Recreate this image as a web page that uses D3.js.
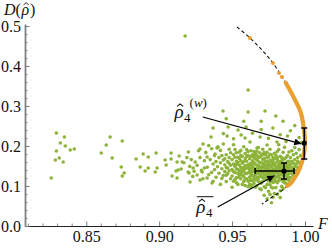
<!DOCTYPE html>
<html>
<head>
<meta charset="utf-8">
<script src="https://cdn.jsdelivr.net/npm/d3@7"></script>
<style>
body { margin: 0; background: #fff; }
svg { display: block; }
text { font-family: "Liberation Serif", "DejaVu Serif", serif; }
</style>
</head>
<body>
<div id="chart"></div>
<script>
// tick values
var xMajor = [0.85, 0.90, 0.95, 1.00];
var yMajor = [0.0, 0.1, 0.2, 0.3, 0.4, 0.5];

// green samples [F, D] : sparse tail on the left
var tailPts = [
    [0.8295,0.2325],[0.835,0.2225],[0.8322,0.2075],[0.8356,0.20],[0.8295,0.1875],[0.839,0.19],
    [0.8418,0.1925],[0.8288,0.165],[0.8315,0.17],[0.8342,0.16],[0.826,0.12],
    [0.8603,0.1825],[0.8637,0.2025],[0.8664,0.2225],[0.8678,0.17],[0.8747,0.2125],[0.874,0.1475],
    [0.876,0.1325],[0.8747,0.125],[0.8842,0.1675],[0.889,0.18],[0.8925,0.1725],[0.8979,0.1825],
    [0.887,0.1475],[0.8904,0.1375],[0.8925,0.145],[0.8973,0.135],[0.8986,0.145],[0.9041,0.165],
    [0.9048,0.1525],[0.9082,0.1825],[0.9082,0.1675],[0.9137,0.175],[0.9123,0.16],[0.9158,0.16],
    [0.9089,0.125],[0.9123,0.12],[0.9116,0.1375],[0.913,0.14],[0.9151,0.1425],[0.9205,0.1325],
    [0.9178,0.475]
];

// green samples: points above the dense cloud
var upperPts = [
    [0.9438,0.2875],[0.961,0.285],[0.9726,0.2875],[0.961,0.34],[0.9473,0.2475],[0.9596,0.2475],
    [0.9541,0.24],[0.937,0.245],[0.9562,0.2275],[0.9356,0.2225],[0.9466,0.225],[0.9301,0.205],
    [0.928,0.1925],[0.9397,0.195],[0.9589,0.22],[0.9623,0.21],[0.9692,0.2225],[0.974,0.2025],
    [0.9671,0.195],[0.9808,0.21],[0.985,0.262],[0.978,0.245],[0.990,0.238],[0.970,0.262],
    [0.964,0.232],[0.951,0.218],[0.944,0.231],[0.983,0.228],[0.975,0.219],[0.993,0.251],
    [0.958,0.262],[0.988,0.225],[0.946,0.268],[0.970,0.241],[0.980,0.275]
];

// green samples: dense cloud
var cloudPts = [
    [0.9199,0.135],[0.9233,0.145],[0.926,0.1275],[0.9295,0.135],[0.928,0.115],[0.9329,0.12],
    [0.9363,0.1075],[0.9212,0.11],[0.9247,0.16],[0.9329,0.1725],[0.9384,0.18],[0.9404,0.1975],
    [0.917,0.158],[0.919,0.171],[0.921,0.149],[0.922,0.166],[0.924,0.137],[0.920,0.185],[0.923,0.124],
    [0.926,0.152],[0.928,0.171],[0.929,0.139],[0.931,0.163],[0.932,0.184],[0.933,0.147],[0.934,0.128],
    [0.935,0.166],[0.936,0.193],[0.937,0.155],[0.938,0.141],[0.938,0.176],[0.939,0.122],[0.927,0.188],
    [0.930,0.118],[0.934,0.201],[0.936,0.134],[0.939,0.161],[0.931,0.145],[0.937,0.112],
    [0.940,0.148],[0.941,0.171],[0.941,0.132],[0.942,0.158],[0.942,0.189],[0.943,0.119],[0.943,0.143],
    [0.944,0.165],[0.944,0.205],[0.945,0.136],[0.945,0.153],[0.946,0.178],[0.946,0.111],[0.946,0.127],
    [0.947,0.161],[0.947,0.145],[0.948,0.192],[0.948,0.171],[0.948,0.138],[0.949,0.152],[0.949,0.118],
    [0.949,0.183],[0.940,0.197],[0.942,0.104],[0.944,0.126],[0.945,0.168],[0.947,0.131],[0.948,0.157],
    [0.943,0.176],[0.946,0.146],
    [0.950,0.141],[0.950,0.166],[0.950,0.125],[0.951,0.155],[0.951,0.178],[0.951,0.112],[0.952,0.134],
    [0.952,0.149],[0.952,0.191],[0.953,0.162],[0.953,0.121],[0.953,0.143],[0.954,0.172],[0.954,0.131],
    [0.954,0.104],[0.955,0.152],[0.955,0.185],[0.955,0.138],[0.956,0.163],[0.956,0.118],[0.956,0.146],
    [0.957,0.174],[0.957,0.127],[0.957,0.157],[0.958,0.139],[0.958,0.198],[0.958,0.111],[0.959,0.151],
    [0.959,0.168],[0.959,0.132],[0.950,0.097],[0.951,0.203],[0.952,0.172],[0.953,0.183],[0.954,0.159],
    [0.955,0.121],[0.956,0.133],[0.956,0.189],[0.957,0.142],[0.958,0.161],[0.958,0.124],[0.959,0.181],
    [0.959,0.101],[0.953,0.108],[0.955,0.169],
    [0.960,0.145],[0.960,0.162],[0.960,0.118],[0.961,0.133],[0.961,0.176],[0.961,0.153],[0.962,0.104],
    [0.962,0.141],[0.962,0.168],[0.963,0.127],[0.963,0.157],[0.963,0.188],[0.964,0.136],[0.964,0.148],
    [0.964,0.113],[0.965,0.171],[0.965,0.124],[0.965,0.159],[0.966,0.142],[0.966,0.097],[0.966,0.181],
    [0.967,0.131],[0.967,0.152],[0.967,0.166],[0.968,0.119],[0.968,0.144],[0.968,0.196],[0.969,0.136],
    [0.969,0.158],[0.969,0.109],[0.960,0.191],[0.961,0.098],[0.962,0.122],[0.962,0.155],[0.963,0.174],
    [0.963,0.141],[0.964,0.163],[0.964,0.126],[0.965,0.137],[0.965,0.186],[0.966,0.115],[0.966,0.155],
    [0.967,0.143],[0.967,0.121],[0.967,0.177],[0.968,0.131],[0.968,0.162],[0.969,0.147],[0.969,0.124],
    [0.969,0.172],[0.961,0.146],[0.962,0.134],[0.964,0.152],[0.965,0.107],[0.966,0.128],[0.968,0.151],
    [0.960,0.131],[0.963,0.116],[0.966,0.168],[0.969,0.093],
    [0.970,0.141],[0.970,0.158],[0.970,0.124],[0.970,0.176],[0.971,0.133],[0.971,0.149],[0.971,0.112],
    [0.971,0.166],[0.972,0.138],[0.972,0.155],[0.972,0.098],[0.972,0.184],[0.973,0.127],[0.973,0.145],
    [0.973,0.162],[0.973,0.118],[0.974,0.136],[0.974,0.151],[0.974,0.171],[0.974,0.104],[0.975,0.129],
    [0.975,0.143],[0.975,0.158],[0.975,0.087],[0.976,0.121],[0.976,0.139],[0.976,0.165],[0.976,0.192],
    [0.977,0.132],[0.977,0.148],[0.977,0.112],[0.977,0.178],[0.978,0.126],[0.978,0.141],[0.978,0.156],
    [0.978,0.095],[0.979,0.135],[0.979,0.152],[0.979,0.119],[0.979,0.169],[0.970,0.091],[0.971,0.192],
    [0.972,0.119],[0.973,0.178],[0.974,0.121],[0.975,0.113],[0.975,0.173],[0.976,0.151],[0.976,0.103],
    [0.977,0.161],[0.978,0.171],[0.978,0.109],[0.979,0.143],[0.979,0.081],[0.970,0.132],[0.971,0.157],
    [0.972,0.146],[0.973,0.135],[0.974,0.162],[0.974,0.143],[0.975,0.135],[0.976,0.128],[0.977,0.139],
    [0.978,0.133],[0.979,0.126],[0.972,0.077],[0.974,0.068],[0.976,0.079],[0.977,0.058],[0.978,0.072],
    [0.980,0.141],[0.980,0.158],[0.980,0.122],[0.980,0.177],[0.981,0.133],[0.981,0.149],[0.981,0.108],
    [0.981,0.166],[0.982,0.128],[0.982,0.144],[0.982,0.159],[0.982,0.191],[0.983,0.119],[0.983,0.137],
    [0.983,0.152],[0.983,0.174],[0.984,0.131],[0.984,0.146],[0.984,0.099],[0.984,0.163],[0.985,0.125],
    [0.985,0.139],[0.985,0.156],[0.985,0.184],[0.986,0.117],[0.986,0.134],[0.986,0.149],[0.986,0.168],
    [0.987,0.128],[0.987,0.142],[0.987,0.158],[0.987,0.107],[0.988,0.136],[0.988,0.151],[0.988,0.121],
    [0.988,0.176],[0.989,0.131],[0.989,0.146],[0.989,0.162],[0.989,0.114],[0.980,0.096],[0.981,0.186],
    [0.982,0.113],[0.983,0.088],[0.984,0.171],[0.985,0.111],[0.986,0.197],[0.987,0.171],[0.988,0.104],
    [0.989,0.185],[0.980,0.134],[0.982,0.137],[0.984,0.141],[0.986,0.143],[0.988,0.144],[0.981,0.079],
    [0.983,0.071],[0.985,0.094],[0.982,0.203],[0.987,0.211],
    [0.990,0.139],[0.990,0.154],[0.990,0.121],[0.990,0.171],[0.991,0.131],[0.991,0.146],[0.991,0.162],
    [0.991,0.188],[0.992,0.126],[0.992,0.141],[0.992,0.157],[0.992,0.178],[0.993,0.134],[0.993,0.149],
    [0.993,0.166],[0.993,0.196],[0.994,0.139],[0.994,0.155],[0.994,0.182],[0.995,0.147],[0.995,0.171],
    [0.995,0.162],[0.996,0.191],[0.996,0.158],[0.997,0.176],[0.997,0.208],[0.996,0.221],
    [0.956,0.176],[0.957,0.104],[0.958,0.147],[0.959,0.117],[0.960,0.174],[0.961,0.112],[0.961,0.186],
    [0.962,0.149],[0.963,0.097],[0.963,0.133],[0.964,0.178],[0.965,0.145],[0.965,0.116],[0.966,0.137],
    [0.967,0.101],[0.967,0.187],[0.968,0.171],[0.968,0.111],[0.969,0.183],[0.970,0.148],[0.970,0.107],
    [0.971,0.121],[0.971,0.179],[0.972,0.128],[0.972,0.169],[0.973,0.153],[0.973,0.096],[0.974,0.128],
    [0.974,0.184],[0.975,0.151],[0.975,0.121],[0.976,0.112],[0.976,0.179],[0.977,0.121],[0.977,0.153],
    [0.977,0.097],[0.978,0.117],[0.978,0.164],[0.979,0.111],[0.979,0.182],[0.980,0.113],[0.980,0.149],
    [0.981,0.171],[0.981,0.124],[0.982,0.151],[0.982,0.121],[0.983,0.161],[0.983,0.128],[0.984,0.115],
    [0.984,0.154],[0.985,0.131],[0.985,0.166],[0.986,0.108],[0.986,0.126],[0.987,0.151],[0.987,0.117],
    [0.988,0.161],[0.988,0.128],[0.989,0.153],[0.989,0.122],[0.951,0.136],[0.952,0.116],[0.953,0.154],
    [0.954,0.141],[0.955,0.128],[0.957,0.136],[0.959,0.143],[0.962,0.113],[0.964,0.103],[0.966,0.176]
];

// dashed bound curve [F, D]
var boundCurve = [
    [0.9534,0.4975],[0.9623,0.470],[0.9705,0.440],[0.9780,0.4075],[0.9840,0.375],[0.9880,0.350],
    [0.9925,0.320],[0.9970,0.285],[0.9990,0.250],[1.0000,0.215],[0.9995,0.185],[0.9975,0.155],
    [0.9945,0.130],[0.9905,0.108],[0.9855,0.092],[0.9790,0.076],[0.9705,0.055]
];

// orange (weighted) samples: dense band along the bound, plus a few loose ones
var orangeBand = [
    [0.9868,0.358],[0.9925,0.320],[0.9970,0.285],[0.9990,0.250],[1.0000,0.215],[0.9995,0.185],
    [0.9975,0.155],[0.9945,0.130],[0.9905,0.108],[0.9878,0.100]
];
var orangePts = [[0.9623,0.470],[0.9780,0.4075],[0.9822,0.3825],[0.9842,0.3725],[0.9897,0.105]];

// estimates with error bars
var weighted = {F: 0.9995, D: 0.2075, Dlo: 0.1675, Dhi: 0.245};
var averaged = {F: 0.9856, D: 0.1375, Flo: 0.9658, Fhi: 0.9925, Dlo: 0.1175, Dhi: 0.1575};

// annotation arrows [from, to] and label anchors (baseline of the rho)
var arrowW = [[0.9299,0.2725],[0.9975,0.2055]];
var arrowA = [[0.9402,0.0475],[0.9790,0.1255]];
var labelW = [0.9105,0.27];
var labelA = [0.9255,0.032];

var W = 332, H = 248;
var svg = d3.select("#chart").append("svg").attr("width", W).attr("height", H);
var serif = "Liberation Serif, DejaVu Serif, serif";

var x = d3.scaleLinear().domain([0.808, 1.0055]).range([25, 313]);
var y = d3.scaleLinear().domain([0, 0.505]).range([226, 24]);

var xMinor = d3.range(81, 101).map(function (d) { return d / 100; })
    .filter(function (d) { return Math.round(d * 100) % 5 != 0; });
var yMinor = d3.range(0, 51, 2).map(function (d) { return d / 100; })
    .filter(function (d) { return Math.round(d * 100) % 10 != 0; });

// minor ticks
svg.append("g").attr("transform", "translate(0,226)")
    .call(d3.axisBottom(x).tickValues(xMinor).tickFormat("").tickSize(-2.5).tickSizeOuter(0))
    .call(function (g) { g.select(".domain").remove(); g.selectAll("line").attr("stroke", "#888"); });
svg.append("g").attr("transform", "translate(25,0)")
    .call(d3.axisLeft(y).tickValues(yMinor).tickFormat("").tickSize(-2.5).tickSizeOuter(0))
    .call(function (g) { g.select(".domain").remove(); g.selectAll("line").attr("stroke", "#888"); });

// major axes
var xAxis = svg.append("g").attr("transform", "translate(0,226)")
    .call(d3.axisBottom(x).tickValues(xMajor).tickFormat(d3.format(".2f")).tickSize(-4.5).tickSizeOuter(0).tickPadding(5));
xAxis.attr("font-family", serif).attr("font-size", 16);
xAxis.select(".domain").attr("stroke", "#222").attr("stroke-width", 1);
xAxis.selectAll("line").attr("stroke", "#777");
xAxis.selectAll("text").attr("fill", "#111");

var yAxis = svg.append("g").attr("transform", "translate(25,0)")
    .call(d3.axisLeft(y).tickValues(yMajor).tickFormat(d3.format(".1f")).tickSize(-4.5).tickSizeOuter(0).tickPadding(4));
yAxis.attr("font-family", serif).attr("font-size", 16);
yAxis.select(".domain").attr("stroke", "#808080").attr("stroke-width", 1.8);
yAxis.selectAll("line").attr("stroke", "#777");
yAxis.selectAll("text").attr("fill", "#111");

// a rho with a hat (small caret path) above it, left edge at (px, py) baseline
function rhoHat(px, py, size) {
    var t = svg.append("text").attr("x", px).attr("y", py)
        .style("font-size", size + "px").style("font-style", "italic").attr("fill", "#111")
        .text("\u03C1");
    var w = t.node().getComputedTextLength();
    var cx = px + w * 0.62, top = py - size * 0.74, hw = size * 0.16;
    svg.append("path")
        .attr("d", "M" + (cx - hw) + "," + (top + size * 0.13) + "L" + cx + "," + top + "L" + (cx + hw) + "," + (top + size * 0.13))
        .attr("fill", "none").attr("stroke", "#111").attr("stroke-width", size / 18);
    return w;
}

// axis titles
var dT = svg.append("text").attr("x", 4).attr("y", 14.5).style("font-size", "16px").attr("fill", "#111");
dT.append("tspan").style("font-style", "italic").text("D");
dT.append("tspan").text("(");
var dW = dT.node().getComputedTextLength();
var rW = rhoHat(4 + dW + 0.5, 14.5, 16);
svg.append("text").attr("x", 4 + dW + rW + 1.5).attr("y", 14.5).style("font-size", "16px")
    .attr("fill", "#111").text(")");

svg.append("text").attr("x", 318).attr("y", 229).style("font-size", "16px")
    .style("font-style", "italic").attr("fill", "#111").text("F");

// green points
var green = "#8db33a";
svg.append("g").selectAll("circle")
    .data(tailPts.concat(upperPts, cloudPts))
    .enter().append("circle")
    .attr("cx", function (d) { return x(d[0]); })
    .attr("cy", function (d) { return y(d[1]); })
    .attr("r", 1.8)
    .attr("fill", green);

// dashed bound
var line = d3.line()
    .x(function (d) { return x(d[0]); })
    .y(function (d) { return y(d[1]); })
    .curve(d3.curveCatmullRom);
svg.append("path").datum(boundCurve).attr("d", line)
    .attr("fill", "none").attr("stroke", "#111").attr("stroke-width", 1.1)
    .attr("stroke-dasharray", "3.5,2.5");

// orange band
var orange = "#e8a031";
svg.append("path").datum(orangeBand).attr("d", line)
    .attr("fill", "none").attr("stroke", orange).attr("stroke-width", 4.2)
    .attr("stroke-linecap", "round");
svg.append("g").selectAll("circle").data(orangePts).enter().append("circle")
    .attr("cx", function (d) { return x(d[0]); })
    .attr("cy", function (d) { return y(d[1]); })
    .attr("r", 2).attr("fill", orange);

// error bars
var eb = svg.append("g").attr("stroke", "#000").attr("stroke-width", 1.5);
function vbar(F, lo, hi) {
    eb.append("line").attr("x1", x(F)).attr("x2", x(F)).attr("y1", y(lo)).attr("y2", y(hi));
    [lo, hi].forEach(function (v) {
        eb.append("line").attr("x1", x(F) - 3).attr("x2", x(F) + 3).attr("y1", y(v)).attr("y2", y(v));
    });
}
function hbar(D, lo, hi) {
    eb.append("line").attr("y1", y(D)).attr("y2", y(D)).attr("x1", x(lo)).attr("x2", x(hi));
    [lo, hi].forEach(function (v) {
        eb.append("line").attr("y1", y(D) - 3).attr("y2", y(D) + 3).attr("x1", x(v)).attr("x2", x(v));
    });
}
vbar(weighted.F, weighted.Dlo, weighted.Dhi);
vbar(averaged.F, averaged.Dlo, averaged.Dhi);
hbar(averaged.D, averaged.Flo, averaged.Fhi);
svg.append("g").selectAll("circle").data([weighted, averaged]).enter().append("circle")
    .attr("cx", function (d) { return x(d.F); })
    .attr("cy", function (d) { return y(d.D); })
    .attr("r", 2.6).attr("fill", "#000");

// arrows
svg.append("defs").append("marker")
    .attr("id", "head").attr("viewBox", "0 0 10 10").attr("refX", 10).attr("refY", 5)
    .attr("markerWidth", 9).attr("markerHeight", 7).attr("markerUnits", "userSpaceOnUse")
    .attr("orient", "auto")
    .append("path").attr("d", "M0,0L10,5L0,10z").attr("fill", "#000");
[arrowW, arrowA].forEach(function (a) {
    svg.append("line")
        .attr("x1", x(a[0][0])).attr("y1", y(a[0][1]))
        .attr("x2", x(a[1][0])).attr("y2", y(a[1][1]))
        .attr("stroke", "#000").attr("stroke-width", 1.2)
        .attr("marker-end", "url(#head)");
});

// label for the weighted estimate
var lx = x(labelW[0]), ly = y(labelW[1]);
var w1 = rhoHat(lx, ly, 19);
svg.append("text").attr("x", lx + w1 + 0.5).attr("y", ly + 4).style("font-size", "13px")
    .attr("fill", "#111").text("4");
var sup = svg.append("text").attr("x", lx + w1 + 6).attr("y", ly - 11).style("font-size", "13px")
    .attr("fill", "#111");
sup.append("tspan").text("(");
sup.append("tspan").style("font-style", "italic").text("w");
sup.append("tspan").text(")");

// label for the averaged estimate, with overline
var ax = x(labelA[0]), ay = y(labelA[1]);
var w2 = rhoHat(ax, ay, 19);
svg.append("text").attr("x", ax + w2 + 0.5).attr("y", ay + 4).style("font-size", "13px")
    .attr("fill", "#111").text("4");
svg.append("line")
    .attr("x1", ax + 0.5).attr("x2", ax + w2 + 8)
    .attr("y1", ay - 16.5).attr("y2", ay - 16.5)
    .attr("stroke", "#111").attr("stroke-width", 1);
</script>
</body>
</html>
